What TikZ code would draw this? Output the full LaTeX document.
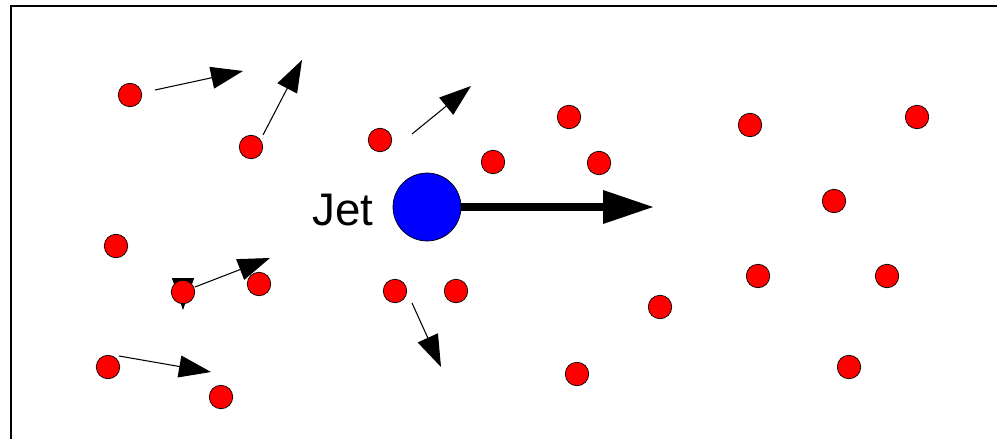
\documentclass[tikz,border=0pt]{standalone}
\usepackage{fontspec}
\setmainfont{Liberation Sans}
\usetikzlibrary{arrows.meta}

\begin{document}
\begin{tikzpicture}[
    x=0.02cm, y=-0.02cm,
    particle/.style={circle, draw=black, line width=0.4pt, fill=red,
                     minimum size=0.47cm, inner sep=0pt},
    jetball/.style={circle, draw=black, line width=0.4pt, fill=blue,
                    minimum size=1.36cm, inner sep=0pt},
    vec/.style={-{Triangle[length=0.64cm, width=0.44cm]}, line width=0.6pt, black},
    jetvec/.style={-{Triangle[length=1cm, width=0.68cm, line width=0pt]}, line width=4.5pt, black},
]
\useasboundingbox (0,0) rectangle (997,439);
% Frame
\draw[line width=0.8pt] (11,439) -- (11,6) -- (997,6);

% Velocity ends
\coordinate (t1) at (155,90);   \coordinate (h1) at (243,71);
\coordinate (t2) at (263,135);  \coordinate (h2) at (302,60);
\coordinate (t3) at (412,134);  \coordinate (h3) at (471,86);
\coordinate (t4) at (195,287);  \coordinate (h4) at (270,258);
\coordinate (t5) at (183,292);  \coordinate (h5) at (183,310);
\coordinate (t6) at (119,356);  \coordinate (h6) at (211,372);
\coordinate (t7) at (412,303);  \coordinate (h7) at (441,367);
\coordinate (jc) at (427,207);  \coordinate (jh) at (653,207);

% Velocity arrows
\draw[vec] (t1) -- (h1);
\draw[vec] (t2) -- (h2);
\draw[vec] (t3) -- (h3);
\draw[vec] (t4) -- (h4);
\draw[vec] (t5) -- (h5);
\draw[vec] (t6) -- (h6);
\draw[vec] (t7) -- (h7);
\draw[jetvec] (jc) -- (jh);

% Jet
\node[jetball] (jet) at (427,207) {};
\node[font=\fontsize{26}{28}\selectfont, anchor=base, inner sep=0pt] (jetlbl) at (343,225) {Jet};

% Particles
\node[particle] (p1)  at (130,95)  {};
\node[particle] (p2)  at (251,147) {};
\node[particle] (p3)  at (380,140) {};
\node[particle] (p4)  at (493,162) {};
\node[particle] (p5)  at (569,117) {};
\node[particle] (p6)  at (599,163) {};
\node[particle] (p7)  at (750,125) {};
\node[particle] (p8)  at (917,117) {};
\node[particle] (p9)  at (834,201) {};
\node[particle] (p10) at (116,246) {};
\node[particle] (p11) at (183,292) {};
\node[particle] (p12) at (259,284) {};
\node[particle] (p13) at (108,367) {};
\node[particle] (p14) at (221,397) {};
\node[particle] (p15) at (395,291) {};
\node[particle] (p16) at (456,291) {};
\node[particle] (p17) at (577,374) {};
\node[particle] (p18) at (660,307) {};
\node[particle] (p19) at (758,276) {};
\node[particle] (p20) at (887,276) {};
\node[particle] (p21) at (849,367) {};
\end{tikzpicture}
\end{document}
